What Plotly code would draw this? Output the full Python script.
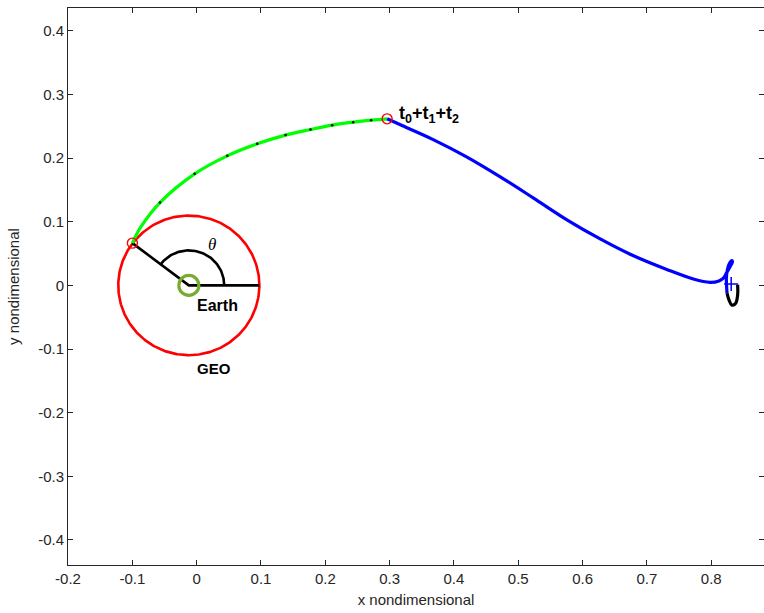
import numpy as np
import plotly.graph_objects as go

# ---- data ----
earth_x, earth_y = -0.01215, 0.0
geo_radius = 0.1097
theta_radius = 0.055

depart_x, depart_y = -0.0999, 0.0664         # start of green leg (on GEO)
arrive_x, arrive_y = 0.2961, 0.2618          # t0+t1+t2 point

green_x = [-0.0999, -0.0870, -0.0570, -0.0031, 0.0476,
           0.0942, 0.1382, 0.1770, 0.2107, 0.2433, 0.2713, 0.2961]
green_y = [0.0664, 0.0915, 0.1302, 0.1753, 0.2036,
           0.2225, 0.2362, 0.2450, 0.2519, 0.2566, 0.2597, 0.2618]

dots_x = [-0.0570, -0.0031, 0.0476, 0.0942, 0.1382, 0.1770, 0.2107, 0.2433, 0.2713]
dots_y = [0.1302, 0.1753, 0.2036, 0.2225, 0.2362, 0.2450, 0.2519, 0.2566, 0.2597]

blue_x = [0.2961, 0.3168, 0.3685, 0.4203, 0.4720, 0.5238, 0.5756, 0.6273,
          0.6791, 0.7309, 0.7722, 0.7981, 0.8120, 0.8188, 0.8240, 0.8290,
          0.8330, 0.8320, 0.8280, 0.8250, 0.8235, 0.8238, 0.8245]
blue_y = [0.2618, 0.2524, 0.2288, 0.2017, 0.1706, 0.1371, 0.1030, 0.0730,
          0.0465, 0.0250, 0.0100, 0.0048, 0.0070, 0.0113, 0.0200, 0.0290,
          0.0370, 0.0390, 0.0340, 0.0240, 0.0120, 0.0000, -0.0120]

halo_x = [0.8245, 0.8280, 0.8320, 0.8380, 0.8410, 0.8410]
halo_y = [-0.0120, -0.0240, -0.0310, -0.0280, -0.0150, 0.0010]

l1_x, l1_y = 0.831, 0.002

xticks = [-0.2, -0.1, 0, 0.1, 0.2, 0.3, 0.4, 0.5, 0.6, 0.7, 0.8]
xtick_text = ["-0.2", "-0.1", "0", "0.1", "0.2", "0.3", "0.4", "0.5", "0.6", "0.7", "0.8"]
yticks = [-0.4, -0.3, -0.2, -0.1, 0, 0.1, 0.2, 0.3, 0.4]
ytick_text = ["-0.4", "-0.3", "-0.2", "-0.1", "0", "0.1", "0.2", "0.3", "0.4"]

FONT = "Liberation Sans, Arial, Helvetica"

# ---- figure ----
fig = go.Figure()

# GEO circle
ang = np.linspace(0, 2 * np.pi, 361)
fig.add_trace(go.Scatter(x=earth_x + geo_radius * np.cos(ang),
                         y=earth_y + geo_radius * np.sin(ang),
                         mode="lines", line=dict(color="#ff0000", width=2.6),
                         hoverinfo="skip"))

# theta lines and arc
fig.add_trace(go.Scatter(x=[depart_x, earth_x, earth_x + geo_radius],
                         y=[depart_y, earth_y, earth_y],
                         mode="lines", line=dict(color="black", width=2.6),
                         hoverinfo="skip"))
theta_end = np.arctan2(depart_y - earth_y, depart_x - earth_x)
arc = np.linspace(0, theta_end, 80)
fig.add_trace(go.Scatter(x=earth_x + theta_radius * np.cos(arc),
                         y=earth_y + theta_radius * np.sin(arc),
                         mode="lines", line=dict(color="black", width=2.6),
                         hoverinfo="skip"))

# Earth
fig.add_trace(go.Scatter(x=[earth_x], y=[earth_y], mode="markers",
                         marker=dict(symbol="circle-open", size=20, color="#77AC30",
                                     line=dict(color="#77AC30", width=3.2)),
                         hoverinfo="skip"))

# green transfer leg
fig.add_trace(go.Scatter(x=green_x, y=green_y, mode="lines",
                         line=dict(color="#00ff00", width=3.2, shape="spline"),
                         hoverinfo="skip"))
fig.add_trace(go.Scatter(x=dots_x, y=dots_y, mode="markers",
                         marker=dict(color="black", size=2.5),
                         hoverinfo="skip"))

# blue leg
fig.add_trace(go.Scatter(x=blue_x, y=blue_y, mode="lines",
                         line=dict(color="#0000ff", width=3.2, shape="spline"),
                         hoverinfo="skip"))
# black halo piece
fig.add_trace(go.Scatter(x=halo_x, y=halo_y, mode="lines",
                         line=dict(color="black", width=3.2, shape="spline"),
                         hoverinfo="skip"))
# L1 cross
fig.add_trace(go.Scatter(x=[l1_x], y=[l1_y], mode="markers",
                         marker=dict(symbol="cross-thin-open", size=10, color="#0000ff",
                                     line=dict(color="#0000ff", width=1.5)),
                         hoverinfo="skip"))

# red point markers
fig.add_trace(go.Scatter(x=[depart_x, arrive_x], y=[depart_y, arrive_y],
                         mode="markers",
                         marker=dict(symbol="circle-open", size=10, color="#ff0000",
                                     line=dict(color="#ff0000", width=1.4)),
                         hoverinfo="skip"))

# annotations
fig.add_annotation(x=0.312, y=0.268, xref="x", yref="y", xanchor="left",
                   yanchor="middle", showarrow=False,
                   text="<b>t<sub>0</sub>+t<sub>1</sub>+t<sub>2</sub></b>",
                   font=dict(family=FONT, size=18, color="black"))
fig.add_annotation(x=0.024, y=0.065, xref="x", yref="y", showarrow=False,
                   text="<i>θ</i>",
                   font=dict(family="Liberation Serif, Times New Roman", size=17, color="black"))
fig.add_annotation(x=0.0326, y=-0.031, xref="x", yref="y", showarrow=False,
                   text="<b>Earth</b>",
                   font=dict(family=FONT, size=16, color="black"))
fig.add_annotation(x=0.027, y=-0.130, xref="x", yref="y", showarrow=False,
                   text="<b>GEO</b>",
                   font=dict(family=FONT, size=15, color="black"))

axis_common = dict(showgrid=False, zeroline=False, showline=True,
                   linecolor="#262626", linewidth=1, mirror="ticks",
                   ticks="inside", ticklen=5, tickcolor="#262626",
                   tickfont=dict(family=FONT, size=15, color="#262626"))

fig.update_xaxes(range=[-0.2, 0.882], tickvals=xticks, ticktext=xtick_text,
                 title=dict(text="x nondimensional", standoff=8,
                            font=dict(family=FONT, size=15, color="#262626")),
                 **axis_common)
fig.update_yaxes(range=[-0.4395, 0.436], tickvals=yticks, ticktext=ytick_text,
                 title=dict(text="y nondimensional", standoff=14,
                            font=dict(family=FONT, size=15, color="#262626")),
                 **axis_common)

fig.update_layout(width=764, height=613, showlegend=False,
                  margin=dict(l=68, r=0, t=8, b=48),
                  plot_bgcolor="white", paper_bgcolor="white")

fig.write_html("out.html")
